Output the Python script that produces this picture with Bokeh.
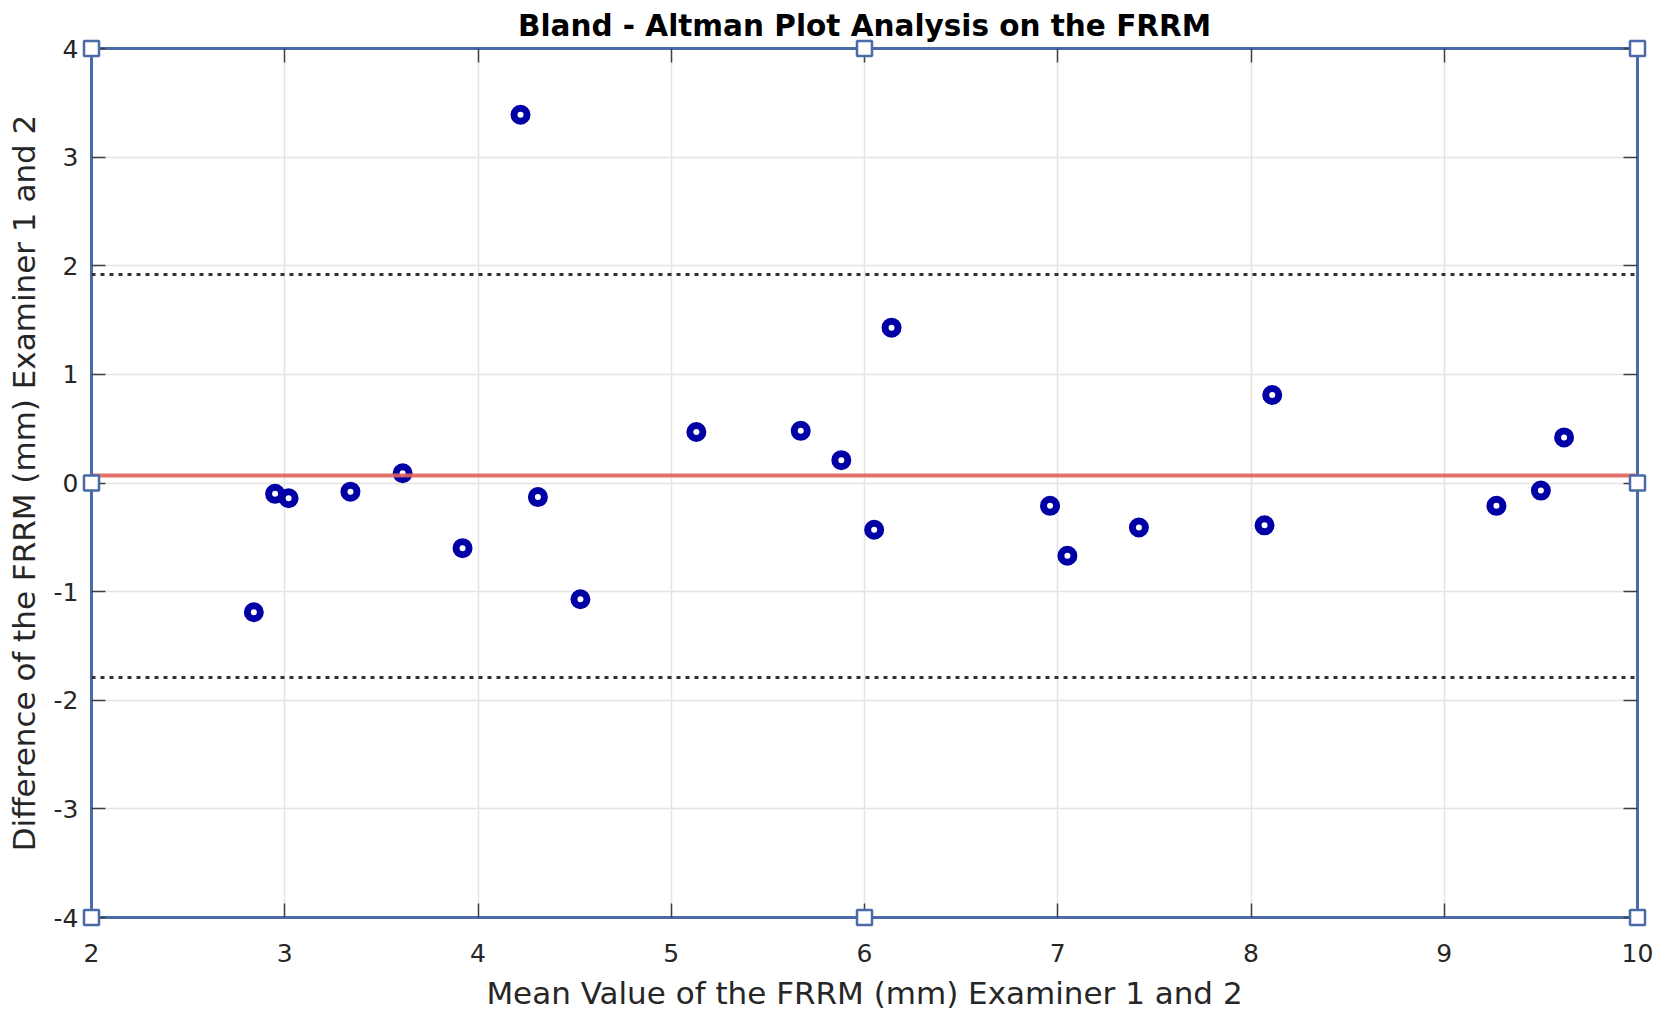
from bokeh.embed import file_html
from bokeh.models import ColumnDataSource, FixedTicker, LinearAxis, Range1d, Span
from bokeh.plotting import figure
from bokeh.resources import INLINE

# Bland-Altman data
mean_values = [2.84, 2.95, 3.02, 3.34, 3.61, 3.92, 4.22, 4.31, 4.53, 5.13, 5.67,
               5.88, 6.05, 6.14, 6.96, 7.05, 7.42, 8.07, 8.11, 9.27, 9.50, 9.62]
differences = [-1.19, -0.10, -0.14, -0.08, 0.09, -0.60, 3.39, -0.13, -1.07, 0.47, 0.48,
               0.21, -0.43, 1.43, -0.21, -0.67, -0.41, -0.39, 0.81, -0.21, -0.07, 0.42]

mean_diff = 0.07
upper_loa = 1.92
lower_loa = -1.79

x_ticks = [2, 3, 4, 5, 6, 7, 8, 9, 10]
y_ticks = [-4, -3, -2, -1, 0, 1, 2, 3, 4]

# selection handles drawn around the axes box
handle_x = [2, 6, 10, 2, 10, 2, 6, 10]
handle_y = [4, 4, 4, 0, 0, -4, -4, -4]

FONT = "DejaVu Sans"
BOX = "#4a6aa8"
TEXT = "#262626"

p = figure(
    width=1655,
    height=1018,
    x_range=Range1d(2, 10),
    y_range=Range1d(-4, 4),
    output_backend="svg",
    toolbar_location=None,
    min_border_left=91,
    min_border_right=18,
    min_border_top=48,
    min_border_bottom=101,
    x_axis_location=None,
    y_axis_location=None,
)

p.title.text = "Bland - Altman Plot Analysis on the FRRM"
p.title.align = "center"
p.title.text_font = FONT
p.title.text_font_size = "29.5px"
p.title.text_font_style = "bold"
p.title.text_color = "#000000"
p.title.standoff = 11

p.outline_line_color = BOX
p.outline_line_width = 3
p.background_fill_color = "white"
p.border_fill_color = "white"

x_bottom = LinearAxis(axis_label="Mean Value of the FRRM (mm) Examiner 1 and 2",
                      ticker=FixedTicker(ticks=x_ticks))
y_left = LinearAxis(axis_label="Difference of the FRRM (mm) Examiner 1 and 2",
                    ticker=FixedTicker(ticks=y_ticks),
                    major_label_overrides={t: str(t) for t in y_ticks})
x_top = LinearAxis(ticker=FixedTicker(ticks=x_ticks))
y_right = LinearAxis(ticker=FixedTicker(ticks=y_ticks))

p.add_layout(x_bottom, "below")
p.add_layout(y_left, "left")
p.add_layout(x_top, "above")
p.add_layout(y_right, "right")

for ax in [x_bottom, y_left, x_top, y_right]:
    ax.axis_line_color = BOX
    ax.axis_line_width = 3
    ax.major_tick_in = 14
    ax.major_tick_out = 0
    ax.major_tick_line_color = "#404040"
    ax.major_tick_line_width = 1.5
    ax.minor_tick_line_color = None
    ax.major_label_text_font = FONT
    ax.major_label_text_font_size = "25px"
    ax.major_label_text_color = TEXT
    ax.axis_label_text_font = FONT
    ax.axis_label_text_font_size = "31px"
    ax.axis_label_text_font_style = "normal"
    ax.axis_label_text_color = TEXT

x_bottom.major_label_standoff = 26
x_bottom.axis_label_standoff = 10
y_left.major_label_standoff = 13
y_left.axis_label_standoff = 9

# top / right axes: ticks only
for ax in [x_top, y_right]:
    ax.major_label_text_color = None
    ax.major_label_text_font_size = "1px"
    ax.major_label_standoff = 0

p.xgrid.ticker = FixedTicker(ticks=x_ticks)
p.ygrid.ticker = FixedTicker(ticks=y_ticks)
p.grid.grid_line_color = "#e4e4e4"
p.grid.grid_line_width = 1.5

# limits of agreement and mean difference
for loc in [upper_loa, lower_loa]:
    p.add_layout(Span(location=loc, dimension="width", line_color="#333333",
                      line_width=3, line_dash="4 5"))
p.add_layout(Span(location=mean_diff, dimension="width", line_color="#e0625c",
                  line_width=4, line_alpha=0.9))

src = ColumnDataSource(dict(x=mean_values, y=differences))
p.scatter("x", "y", source=src, marker="circle", size=13, line_width=7,
          line_color="#0000a4", fill_color="white")

handles = ColumnDataSource(dict(x=handle_x, y=handle_y))
p.scatter("x", "y", source=handles, marker="square", size=15, line_width=2.5,
          line_color=BOX, fill_color="white", level="overlay")

open("out.html", "w").write(file_html(p, INLINE))
